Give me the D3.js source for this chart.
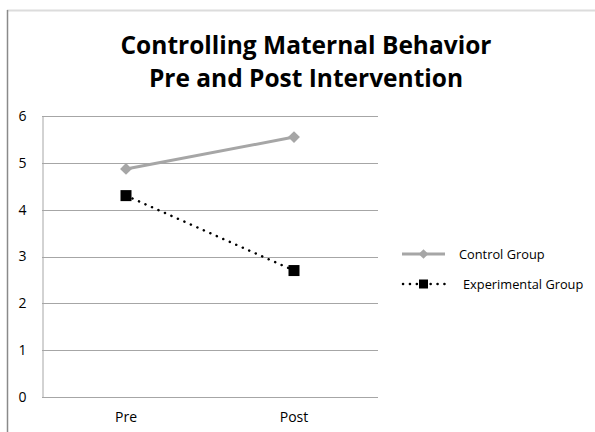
<!DOCTYPE html>
<html>
<head>
<meta charset="utf-8">
<script src="https://cdn.jsdelivr.net/npm/d3@7"></script>
<style>
  body { margin: 0; background: #fff; }
  svg { display: block; font-family: "Open Sans", "Noto Sans", sans-serif; }
</style>
</head>
<body>
<div id="root"></div>
<script>
const w = 595;
const h = 432;
const margin = { left: 42, right: 217, top: 116, bottom: 35 };
const font = "Open Sans, Noto Sans, sans-serif";

const categories = ["Pre", "Post"];
const controlValues = [4.87, 5.55];
const experimentalValues = [4.3, 2.7];
const yTicks = [0, 1, 2, 3, 4, 5, 6];
const seriesNames = ["Control Group", "Experimental Group"];

const svg = d3
  .select("#root")
  .append("svg")
  .attr("width", w)
  .attr("height", h);

// frame of the chart area
svg
  .append("line")
  .attr("x1", 7)
  .attr("x2", w)
  .attr("y1", 10.5)
  .attr("y2", 10.5)
  .attr("stroke", "#dcdcdc")
  .attr("stroke-width", 2);

svg
  .append("line")
  .attr("x1", 7.5)
  .attr("x2", 7.5)
  .attr("y1", 10)
  .attr("y2", h)
  .attr("stroke", "#8a8a8a")
  .attr("stroke-width", 1.5);

const title = svg
  .append("text")
  .attr("text-anchor", "middle")
  .attr("font-weight", "bold")
  .attr("font-size", 24.5)
  .attr("fill", "#000");

title.append("tspan").attr("x", 306).attr("y", 54).text("Controlling Maternal Behavior");
title.append("tspan").attr("x", 306).attr("y", 87).text("Pre and Post Intervention");

const xScale = d3
  .scaleBand()
  .domain(categories)
  .range([margin.left, w - margin.right]);

const yScale = d3
  .scaleLinear()
  .domain([0, 6])
  .range([h - margin.bottom, margin.top]);

// gridlines
svg
  .append("g")
  .selectAll("line")
  .data(yTicks)
  .join("line")
  .attr("x1", margin.left)
  .attr("x2", w - margin.right)
  .attr("y1", (d) => Math.round(yScale(d)) + 0.5)
  .attr("y2", (d) => Math.round(yScale(d)) + 0.5)
  .attr("stroke", "#a6a6a6");

const yAxis = d3
  .axisLeft(yScale)
  .tickValues(yTicks)
  .tickFormat(d3.format("d"))
  .tickSize(0)
  .tickPadding(16);

svg
  .append("g")
  .attr("transform", `translate(${margin.left + 0.5},0)`)
  .call(yAxis)
  .attr("font-family", font)
  .call((g) => g.select(".domain").attr("stroke", "#a6a6a6"))
  .call((g) =>
    g.selectAll("text").attr("font-size", 14).attr("fill", "#000")
  );

const xAxis = d3.axisBottom(xScale).tickSize(0).tickPadding(15);

svg
  .append("g")
  .attr("transform", `translate(0,${h - margin.bottom})`)
  .call(xAxis)
  .attr("font-family", font)
  .call((g) => g.select(".domain").remove())
  .call((g) =>
    g.selectAll("text").attr("font-size", 14).attr("fill", "#000")
  );

const cx = (c) => xScale(c) + xScale.bandwidth() / 2;

const line = d3
  .line()
  .x((d) => cx(d.cat))
  .y((d) => yScale(d.v));

const controlData = categories.map((c, i) => ({ cat: c, v: controlValues[i] }));
const expData = categories.map((c, i) => ({ cat: c, v: experimentalValues[i] }));

svg
  .append("path")
  .datum(controlData)
  .attr("d", line)
  .attr("fill", "none")
  .attr("stroke", "#a6a6a6")
  .attr("stroke-width", 3);

const diamond = d3.symbol().type(d3.symbolDiamond2).size(90);

svg
  .append("g")
  .selectAll("path")
  .data(controlData)
  .join("path")
  .attr("d", diamond)
  .attr("transform", (d) => `translate(${cx(d.cat)},${yScale(d.v)})`)
  .attr("fill", "#a6a6a6");

svg
  .append("path")
  .datum(expData)
  .attr("d", line)
  .attr("fill", "none")
  .attr("stroke", "#000")
  .attr("stroke-width", 2.5)
  .attr("stroke-linecap", "round")
  .attr("stroke-dasharray", "0.1 7");

const sq = 11;

svg
  .append("g")
  .selectAll("rect")
  .data(expData)
  .join("rect")
  .attr("x", (d) => cx(d.cat) - sq / 2)
  .attr("y", (d) => yScale(d.v) - sq / 2)
  .attr("width", sq)
  .attr("height", sq)
  .attr("fill", "#000");

// legend
const legend = svg.append("g").attr("transform", "translate(402,254)");

legend
  .append("line")
  .attr("x1", 0)
  .attr("x2", 43)
  .attr("stroke", "#a6a6a6")
  .attr("stroke-width", 3);

legend
  .append("path")
  .attr("d", diamond.size(60))
  .attr("transform", "translate(21.5,0)")
  .attr("fill", "#a6a6a6");

legend
  .append("text")
  .attr("x", 57)
  .attr("y", 4.5)
  .attr("font-size", 12.8)
  .attr("fill", "#000")
  .text(seriesNames[0]);

const legend2 = svg.append("g").attr("transform", "translate(402,284)");

legend2
  .append("line")
  .attr("x1", 1)
  .attr("x2", 43)
  .attr("stroke", "#000")
  .attr("stroke-width", 2.5)
  .attr("stroke-linecap", "round")
  .attr("stroke-dasharray", "0.1 6.8");

legend2
  .append("rect")
  .attr("x", 21.5 - 4.5)
  .attr("y", -4.5)
  .attr("width", 9)
  .attr("height", 9)
  .attr("fill", "#000");

legend2
  .append("text")
  .attr("x", 61)
  .attr("y", 4.5)
  .attr("font-size", 12.8)
  .attr("fill", "#000")
  .text(seriesNames[1]);
</script>
</body>
</html>
